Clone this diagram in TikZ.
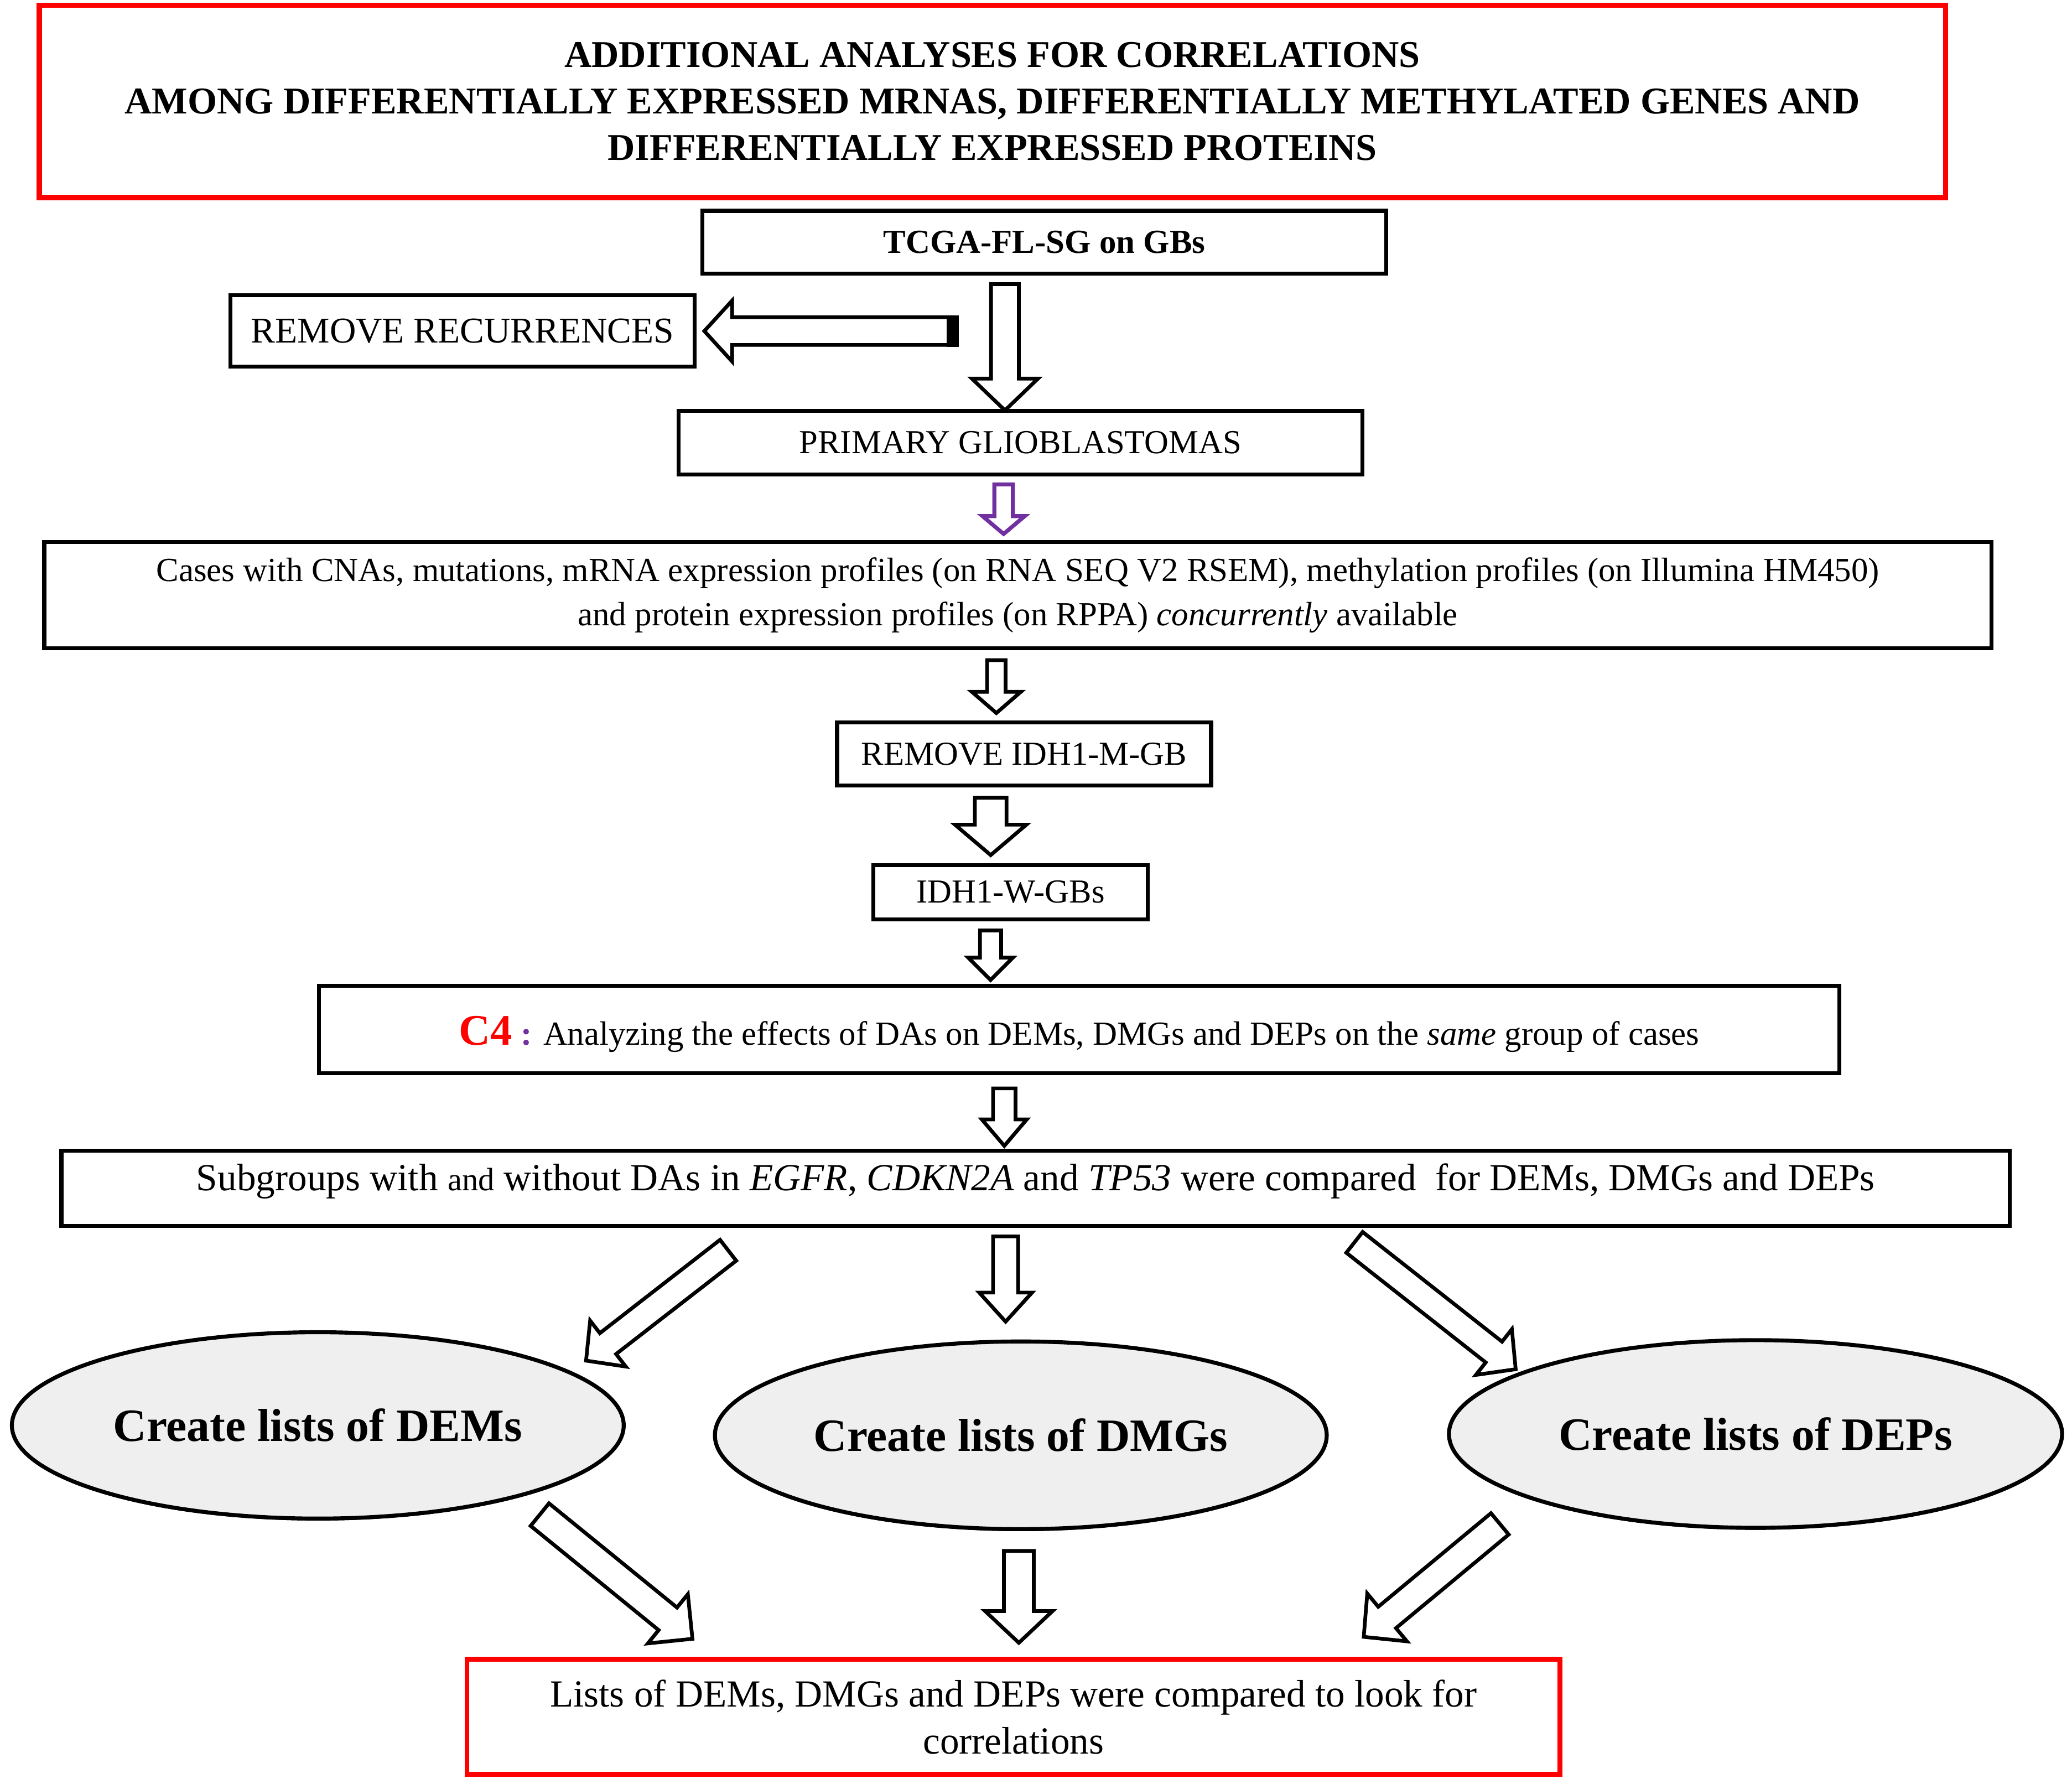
\documentclass[tikz,border=0pt]{standalone}
\usepackage{fontspec}
\setmainfont{Liberation Serif}
\usetikzlibrary{calc,shapes.geometric,shadows}
\definecolor{myred}{RGB}{255,0,0}
\definecolor{mypurple}{RGB}{112,48,160}
\definecolor{ellfill}{RGB}{239,239,239}
% #1 options, #2 tail, #3 tip, #4 shaft half width, #5 head half width, #6 head length
\newcommand{\blockarrow}[6][]{%
  \draw[blockarr,#1] ($(#2)!#4!90:(#3)$)
    -- ($(#3)!#6!(#2)!#4!-90:(#2)$)
    -- ($(#3)!#6!(#2)!#5!-90:(#2)$)
    -- (#3)
    -- ($(#3)!#6!(#2)!#5!90:(#2)$)
    -- ($(#3)!#6!(#2)!#4!90:(#2)$)
    -- ($(#2)!#4!-90:(#3)$) -- cycle;}
\begin{document}
\begin{tikzpicture}[x=1pt,y=-1pt,
  box/.style={draw=black, line width=3pt, rectangle, inner sep=0pt, align=center},
  redbox/.style={box, draw=myred, line width=4pt},
  ellbox/.style={ellipse, draw=black, line width=3pt, fill=ellfill, inner sep=0pt,
     drop shadow={shadow xshift=0pt, shadow yshift=-1.5pt, opacity=1, fill=black}},
  blockarr/.style={draw=black, fill=white, line width=2.8pt, line join=miter, miter limit=10},
  normal/.style={font=\fontsize{25.5}{33.5}\selectfont},
]
\fill[white] (0,0) rectangle (1568,1353.6);
\useasboundingbox (0,0) rectangle (1568,1353.6);

% boxes
\node[redbox, minimum width=1442.5pt, minimum height=145.5pt,
      font=\bfseries\fontsize{28.6}{35}\selectfont] (title) at (751,76.75)
  {ADDITIONAL ANALYSES FOR CORRELATIONS\\AMONG DIFFERENTIALLY EXPRESSED MRNAS, DIFFERENTIALLY METHYLATED GENES AND\\DIFFERENTIALLY EXPRESSED PROTEINS};

\node[box, minimum width=517.5pt, minimum height=47.5pt,
      font=\bfseries\fontsize{25.5}{30}\selectfont] (tcga) at (790.25,183.25) {TCGA-FL-SG on GBs};

\node[box, minimum width=351pt, minimum height=54pt,
      font=\fontsize{27.5}{33}\selectfont] (recur) at (350,250.5) {REMOVE RECURRENCES};

\node[box, minimum width=517.5pt, minimum height=48pt,
      font=\fontsize{25.4}{31}\selectfont] (prim) at (772.25,335) {PRIMARY GLIOBLASTOMAS};

\node[box, normal, minimum width=1473.5pt, minimum height=80.5pt] (cases) at (770.25,450.25)
  {Cases with CNAs, mutations, mRNA expression profiles (on RNA SEQ V2 RSEM), methylation profiles (on Illumina HM450)\\and protein expression profiles (on RPPA) \textit{concurrently} available};

\node[box, minimum width=283pt, minimum height=48pt,
      font=\fontsize{25.4}{31}\selectfont] (idhm) at (775,570.5) {REMOVE IDH1-M-GB};

\node[box, minimum width=207.5pt, minimum height=41pt,
      font=\fontsize{25.4}{31}\selectfont] (idhw) at (764.75,675) {IDH1-W-GBs};

\node[box, normal, minimum width=1150.5pt, minimum height=66pt, text height=23pt, text depth=0pt] (c4) at (816.75,779)
  {{\color{myred}\bfseries\fontsize{33}{33}\selectfont C4} {\color{mypurple}\bfseries :} Analyzing the effects of DAs on DEMs, DMGs and DEPs on the \textit{same} group of cases};

\node[box, font=\fontsize{29}{35}\selectfont, minimum width=1474.5pt, minimum height=57pt, text height=19pt, text depth=15.8pt] (sub) at (783.75,899)
  {Subgroups with {\fontsize{24.5}{30}\selectfont and} without DAs in \textit{EGFR}, \textit{CDKN2A} and \textit{TP53} were compared\ \ for DEMs, DMGs and DEPs};

\node[ellbox, minimum width=463pt, minimum height=141pt,
      font=\bfseries\fontsize{35}{40}\selectfont] (dems) at (240.5,1078.5) {Create lists of DEMs};
\node[ellbox, minimum width=463pt, minimum height=142pt,
      font=\bfseries\fontsize{35}{40}\selectfont] (dmgs) at (772.5,1086) {Create lists of DMGs};
\node[ellbox, minimum width=464pt, minimum height=142pt,
      font=\bfseries\fontsize{35}{40}\selectfont] (deps) at (1328.5,1085) {Create lists of DEPs};

\node[redbox, line width=3.5pt, minimum width=827pt, minimum height=87pt,
      font=\fontsize{29}{35.5}\selectfont] (final) at (767,1299)
  {Lists of DEMs, DMGs and DEPs were compared to look for\\correlations};

% arrow end points
\coordinate (rrT) at (721,250.5);   \coordinate (rrH) at (533,250.5);
\coordinate (a1T) at (760.5,215);   \coordinate (a1H) at (760.5,310.5);
\coordinate (apT) at (759.5,366.5); \coordinate (apH) at (759.5,404);
\coordinate (a3T) at (754,499.5);   \coordinate (a3H) at (754,539.5);
\coordinate (a4T) at (749.7,603.5); \coordinate (a4H) at (749.7,647);
\coordinate (a5T) at (749.6,704);   \coordinate (a5H) at (749.6,741.5);
\coordinate (a6T) at (760,823.5);   \coordinate (a6H) at (760,867);
\coordinate (a7T) at (551,946);     \coordinate (a7H) at (443.5,1029.5);
\coordinate (a8T) at (761,935.5);   \coordinate (a8H) at (761,1000);
\coordinate (a9T) at (1025,940);    \coordinate (a9H) at (1147,1036);
\coordinate (b1T) at (408.5,1146);  \coordinate (b1H) at (524,1240);
\coordinate (b2T) at (771,1173.5);  \coordinate (b2H) at (771,1243);
\coordinate (b3T) at (1135,1153);   \coordinate (b3H) at (1032,1238.5);

% block arrows
\blockarrow{rrT}{rrH}{10.5pt}{23pt}{21pt}
\draw[line width=9pt] ($(rrT)!12pt!90:(rrH)$) -- ($(rrT)!12pt!-90:(rrH)$);
\blockarrow{a1T}{a1H}{10.5pt}{25pt}{24pt}
\blockarrow[draw=mypurple, line width=3pt]{apT}{apH}{7pt}{16pt}{13.5pt}
\blockarrow{a3T}{a3H}{7pt}{18.5pt}{16pt}
\blockarrow{a4T}{a4H}{12pt}{27pt}{23pt}
\blockarrow{a5T}{a5H}{8pt}{17pt}{17pt}
\blockarrow{a6T}{a6H}{8.5pt}{17pt}{20pt}
\blockarrow{a7T}{a7H}{10pt}{22pt}{21pt}
\blockarrow{a8T}{a8H}{9.5pt}{20pt}{22pt}
\blockarrow{a9T}{a9H}{10pt}{22pt}{21pt}
\blockarrow{b1T}{b1H}{11pt}{24pt}{24pt}
\blockarrow{b2T}{b2H}{11.3pt}{25.5pt}{24pt}
\blockarrow{b3T}{b3H}{10.5pt}{23.5pt}{23pt}
\end{tikzpicture}
\end{document}
